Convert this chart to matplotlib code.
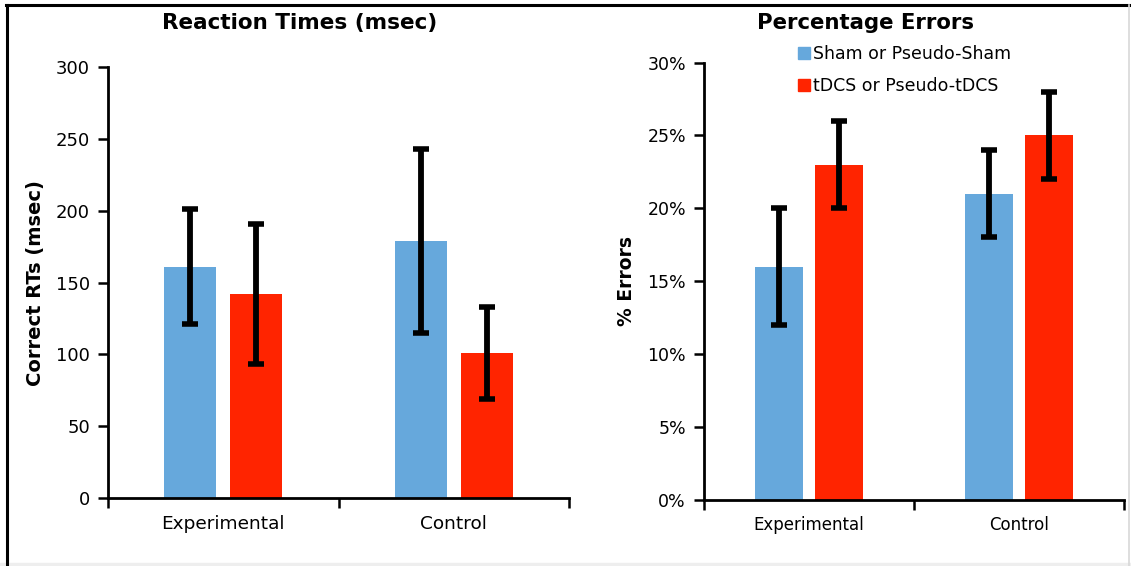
import numpy as np
import matplotlib
matplotlib.use('Agg')
from matplotlib import pyplot as plt
from matplotlib.patches import Rectangle
from matplotlib.lines import Line2D
from matplotlib.ticker import FuncFormatter

groups = ['Experimental', 'Control']
series = ['Sham or Pseudo-Sham', 'tDCS or Pseudo-tDCS']
colors = ['#66A8DC', '#FF2400']

# reaction times (msec): mean and error per group
rt_sham = [161, 179]
rt_sham_err = [40, 64]
rt_tdcs = [142, 101]
rt_tdcs_err = [49, 32]

# percentage errors
pe_sham = [16, 21]
pe_sham_err = [4, 3]
pe_tdcs = [23, 25]
pe_tdcs_err = [3, 3]

plt.rcParams['font.family'] = ['DejaVu Sans']

fig = plt.figure(figsize=(11.31, 5.66), dpi=100)
ax1 = fig.add_axes([0.0955, 0.12, 0.4076, 0.7615])
ax2 = fig.add_axes([0.6225, 0.1173, 0.3714, 0.772])

x = np.arange(len(groups))
w = 0.226
off = 0.143
ekw = dict(ecolor='black', elinewidth=4.2, capsize=6, capthick=4)


def draw(ax, sham, sham_err, tdcs, tdcs_err, ymax, step, fs, tfs):
    ax.bar(x - off, sham, w, color=colors[0], label=series[0], zorder=2)
    ax.bar(x + off, tdcs, w, color=colors[1], label=series[1], zorder=2)
    ax.errorbar(x - off, sham, yerr=sham_err, fmt='none', zorder=3, **ekw)
    ax.errorbar(x + off, tdcs, yerr=tdcs_err, fmt='none', zorder=3, **ekw)
    ax.set_xlim(-0.5, 1.5)
    ax.set_ylim(0, ymax)
    ax.set_yticks(np.arange(0, ymax + step / 2, step))
    # category dividers as major ticks, names as minor ticks
    ax.set_xticks([-0.5, 0.5, 1.5])
    ax.set_xticklabels([])
    ax.set_xticks(x, minor=True)
    ax.set_xticklabels(groups, minor=True, fontsize=fs)
    ax.tick_params(axis='x', which='major', direction='out', length=7, width=1.8)
    ax.tick_params(axis='x', which='minor', length=0, pad=12)
    ax.tick_params(axis='y', direction='out', length=7, width=1.8, labelsize=tfs, pad=6)
    for s in ['top', 'right']:
        ax.spines[s].set_visible(False)
    for s in ['left', 'bottom']:
        ax.spines[s].set_linewidth(2)
        ax.spines[s].set_color('black')


draw(ax1, rt_sham, rt_sham_err, rt_tdcs, rt_tdcs_err, 300, 50, 13.3, 13)
ax1.set_ylabel('Correct RTs (msec)', fontsize=14, fontweight='bold', labelpad=8)

draw(ax2, pe_sham, pe_sham_err, pe_tdcs, pe_tdcs_err, 30, 5, 12, 12.5)
ax2.yaxis.set_major_formatter(FuncFormatter(lambda v, p: '%d%%' % v))
ax2.set_ylabel('% Errors', fontsize=13.5, fontweight='bold', labelpad=8)

handles = [Line2D([], [], marker='s', linestyle='none', markersize=9,
                  markerfacecolor=c, markeredgecolor=c) for c in colors]
fig.legend(handles, series, loc='upper left', bbox_to_anchor=(0.697, 0.932),
           frameon=False, fontsize=12.5, handletextpad=0.05, labelspacing=0.78,
           handlelength=1.0, borderaxespad=0)

fig.text(0.265, 0.96, 'Reaction Times (msec)', ha='center', va='center',
         fontsize=15.5, fontweight='bold')
fig.text(0.765, 0.96, 'Percentage Errors', ha='center', va='center',
         fontsize=15.3, fontweight='bold')

# outer frame
fig.add_artist(Line2D([0.005, 0.998], [0.991, 0.991], color='black', lw=2.2))
fig.add_artist(Line2D([0.0062, 0.0062], [0.0, 0.991], color='black', lw=2.2))
fig.add_artist(Line2D([0.998, 0.998], [0.0, 0.991], color='#d8d8d8', lw=1.2))
fig.add_artist(Rectangle((0, 0), 1, 0.006, color='#eeeeee', transform=fig.transFigure))

fig.savefig('out.png', dpi=100)
